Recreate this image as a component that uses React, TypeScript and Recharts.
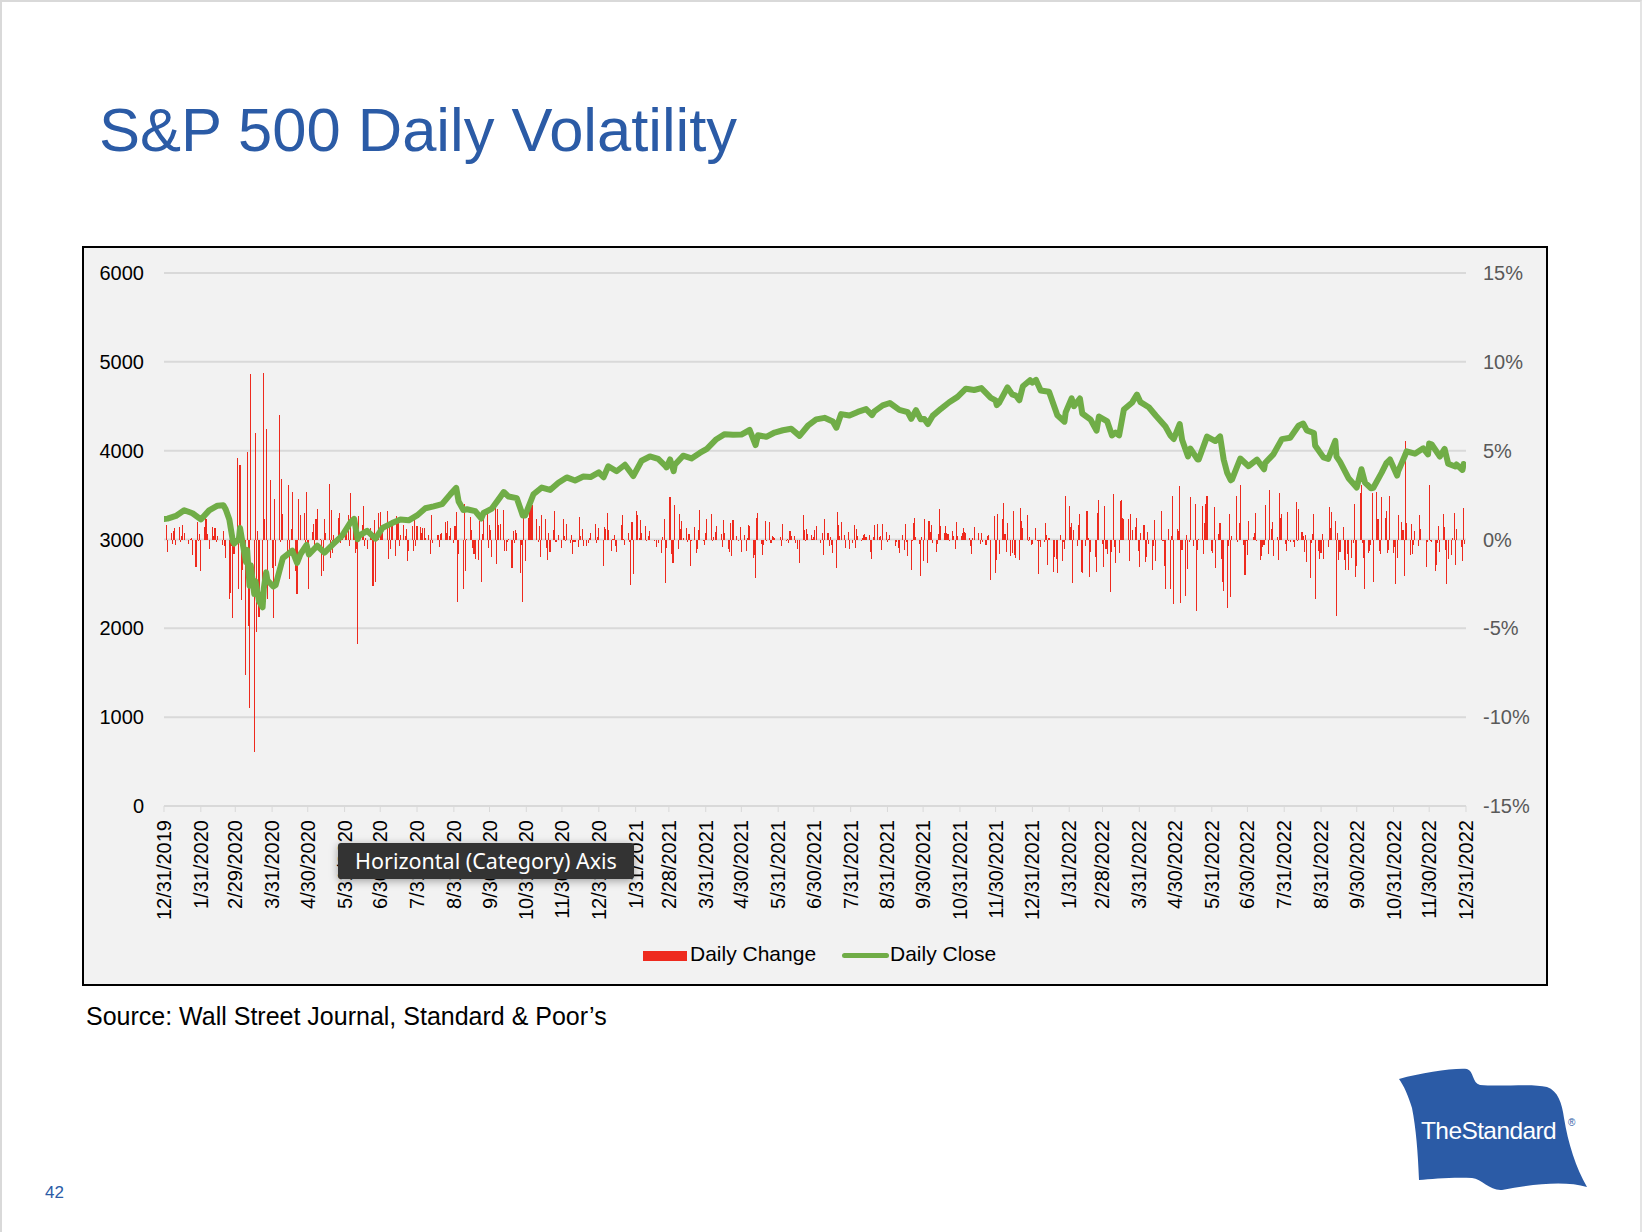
import React from "react"
import { ComposedChart, Bar, Line, XAxis, YAxis, CartesianGrid } from "recharts"

// month-end labels on the date axis
const monthLabels = [
  "12/31/2019", "1/31/2020", "2/29/2020", "3/31/2020", "4/30/2020", "5/31/2020", "6/30/2020",
  "7/31/2020", "8/31/2020", "9/30/2020", "10/31/2020", "11/30/2020", "12/31/2020",
  "1/31/2021", "2/28/2021", "3/31/2021", "4/30/2021", "5/31/2021", "6/30/2021",
  "7/31/2021", "8/31/2021", "9/30/2021", "10/31/2021", "11/30/2021", "12/31/2021",
  "1/31/2022", "2/28/2022", "3/31/2022", "4/30/2022", "5/31/2022", "6/30/2022",
  "7/31/2022", "8/31/2022", "9/30/2022", "10/31/2022", "11/30/2022", "12/31/2022",
]

const leftTicks = [0, 1000, 2000, 3000, 4000, 5000, 6000]
const rightTicks = [-15, -10, -5, 0, 5, 10, 15]

// market holidays (no bar on these weekdays)
const holidays = [
  "1/1/2020", "1/20/2020", "2/17/2020", "4/10/2020", "5/25/2020", "7/3/2020", "9/7/2020", "11/26/2020", "12/25/2020",
  "1/1/2021", "1/18/2021", "2/15/2021", "4/2/2021", "5/31/2021", "7/5/2021", "9/6/2021", "11/25/2021", "12/24/2021",
  "1/17/2022", "2/21/2022", "4/15/2022", "5/30/2022", "6/20/2022", "7/4/2022", "9/5/2022", "11/24/2022", "12/26/2022",
]

// daily change, % (one value per trading day)
const change2019 = [0.29]
const change2020 = [
  0.84, -0.71, 0.35, -0.28, 0.49, 0.67, -0.29, 0.70, -0.15, 0.19, 0.84, 0.39, -0.27, 0.03, 0.11, -0.90, -1.57, 1.01, -0.09, 0.31, -1.77,
  0.73, 1.50, 1.13, 0.33, -0.54, 0.73, 0.17, 0.65, -0.16, 0.18, -0.29, 0.47, -0.38, -1.05, -3.35, -3.03, -0.38, -4.42, -0.82,
  4.60, -2.81, 4.22, -3.39, -1.71, -7.60, 4.94, -4.89, -9.51, 9.29, -11.98, 6.00, -5.18, 0.47, -4.34, -2.93, 9.38, 1.15, 6.24, -3.37, 3.35, -1.60,
  -4.41, 2.28, -1.51, 7.03, -0.16, 3.41, 1.45, -1.01, 3.06, -2.20, 0.58, 2.68, -1.79, -3.07, 2.29, -0.05, 1.39, 1.47, -0.52, 2.66, -0.92,
  -2.81, 0.42, 0.90, -0.70, 1.15, 1.69, 0.01, -2.05, -1.75, 1.15, 0.39, 3.15, -1.05, 1.67, -0.78, 0.24, 1.23, 1.48, -0.21, 0.48,
  0.38, 0.82, 1.36, -0.34, 2.62, 1.20, -0.78, -0.53, -5.89, 1.31, 0.83, 1.90, -0.36, 0.06, -0.56, 0.65, 0.43, -2.59, 1.10, -2.42, 1.47, 1.54,
  0.50, 0.45, 1.59, -1.08, 0.78, -0.56, 1.05, -0.94, 1.34, 0.91, -0.34, 0.28, 0.84, 0.17, 0.57, -1.23, -0.62, 0.74, -0.65, 1.24, -0.38, 0.77,
  0.72, 0.36, 0.64, 0.64, 0.06, 0.27, -0.80, 1.40, -0.20, -0.02, 0.27, 0.23, -0.44, 0.32, 0.34, 1.00, 0.36, 1.02, 0.17, 0.67, -0.22,
  0.75, 1.54, -3.51, -0.81, -2.78, 2.01, -1.76, 0.05, 1.27, 0.52, -0.46, -0.84, -1.12, -1.16, 1.05, -2.37, 0.30, 1.60, 1.61, -0.48, 0.83,
  0.53, -0.96, 1.80, -1.40, 1.74, 0.80, 0.88, 1.64, -0.63, -0.66, -0.15, 0.01, -1.63, 0.47, -0.22, 0.52, 0.34, -1.86, -0.30, -3.53, 1.19, -1.21,
  1.23, 1.78, 2.20, 1.95, -0.03, 1.17, -0.14, 0.77, -1.00, 1.36, 1.16, -0.48, -1.16, 0.39, -0.68, 0.56, 1.62, -0.16, 0.24, -0.46,
  1.13, 0.18, -0.06, 0.88, -0.19, 0.28, -0.79, -0.13, -0.13, -0.44, 1.29, 0.18, 0.58, -0.35, -0.39, -0.21, 0.07, 0.35, 0.87, -0.22, 0.13, 0.64,
]
const change2021 = [
  -1.48, 0.71, 0.57, 1.48, 0.55, -0.66, 0.04, 0.23, -0.38, -0.72, 0.81, 1.39, 0.03, -0.30, 0.36, -0.15, -2.57, 0.98, -1.93,
  1.61, 1.39, 0.10, 1.09, 0.39, 0.74, -0.11, -0.03, 0.17, 0.47, -0.06, -0.03, -0.44, -0.19, -0.77, 0.13, 1.14, -2.45, -0.48,
  2.38, -0.81, -1.31, -1.34, 1.95, -0.54, 1.42, 0.60, 1.04, 0.10, 0.65, -0.16, 0.29, -1.48, -0.06, 0.70, -0.76, -0.55, 0.52, 1.66, -0.09, -0.32, 0.36,
  1.18, 1.44, -0.10, 0.15, 0.42, 0.77, -0.02, 0.33, -0.41, 1.11, 0.36, -0.53, -0.68, 0.93, -0.92, 1.09, 0.18, -0.02, -0.08, 0.68, -0.72,
  0.27, -0.67, 0.07, 0.82, 0.74, -1.04, -0.87, -2.14, 1.22, 1.49, -0.25, -0.85, -0.29, 1.06, -0.08, 0.99, -0.21, 0.19, 0.12, 0.08,
  -0.05, 0.14, -0.36, 0.88, -0.08, 0.02, -0.18, 0.47, 0.19, 0.18, -0.20, -0.54, -0.04, -1.31, 1.40, 0.51, -0.11, 0.58, 0.33, 0.23, 0.03, 0.13,
  0.52, 0.75, -0.20, 0.34, -0.86, 1.13, 0.35, -0.35, 0.12, -0.33, -0.75, -1.59, 1.52, 0.82, 0.20, 1.01, 0.24, -0.47, -0.02, 0.42, -0.54,
  -0.18, 0.82, -0.46, 0.60, 0.17, -0.09, 0.10, 0.25, 0.30, 0.16, 0.26, -0.71, -1.07, 0.13, 0.81, 0.85, 0.15, 0.22, -0.58, 0.88, 0.43, -0.13,
  0.03, 0.28, -0.03, -0.34, -0.13, -0.46, -0.77, 0.23, -0.57, 0.85, -0.16, -0.91, -1.70, -0.08, 0.95, 1.21, 0.15, -0.28, -2.04, 0.16, -1.19,
  1.15, -1.30, 1.05, 0.41, 0.83, -0.19, -0.69, -0.24, 0.30, 1.71, 0.75, 0.34, 0.74, 0.37, 0.30, -0.11, 0.47, 0.18, -0.51, 0.98, 0.19,
  0.18, 0.37, 0.65, 0.42, 0.37, 0.09, -0.35, -0.82, 0.06, 0.72, 0.00, 0.39, -0.26, 0.34, -0.14, -0.32, 0.17, 0.23, -2.27, 1.32, -1.90,
  -1.18, 1.42, -0.84, 1.17, 2.07, 0.31, -0.72, 0.95, -0.91, -0.75, 1.63, -0.87, -1.03, -1.14, 1.78, 1.02, 0.62, 1.38, -0.10, 0.14, -0.30, -0.26,
]
const change2022 = [
  0.64, -0.06, -1.94, -0.10, -0.41, -0.14, 0.92, 0.28, -1.42, 0.08, -1.84, -0.97, -1.10, -1.89, 0.28, -1.22, -0.15, -0.54, 2.43, 1.89,
  0.69, 0.94, -2.44, 0.52, -0.37, 0.84, 1.45, -1.81, -1.90, -0.38, 1.58, 0.09, -2.12, -0.72, -1.01, -1.84, 1.50, 2.24, -0.24,
  -1.55, 1.86, -0.53, -0.79, -2.95, -0.72, 2.57, -0.43, -1.30, -0.74, 2.14, 2.24, 1.23, 1.17, -0.04, 1.13, -1.23, 1.43, 0.51, 0.71, 1.23, -0.63, -1.57,
  0.34, 0.81, -1.26, -0.97, 0.43, -0.27, -1.69, -0.34, 1.12, -1.21, -0.02, 1.61, -0.06, -1.48, -2.77, 0.57, -2.81, 0.21, 2.47, -3.63,
  0.57, 0.48, 2.99, -3.56, -0.57, -3.20, 0.25, -1.65, -0.13, 2.39, -0.39, 2.02, -4.04, -0.58, 0.01, 1.86, -0.81, 0.95, 1.99, 2.47, -0.63,
  -0.75, 1.84, -1.63, 0.31, 0.95, -1.08, -2.38, -2.91, -3.88, -0.38, 1.46, -3.25, 0.22, 2.45, -0.13, 0.95, 3.06, -0.30, -2.01, -0.07, -0.88,
  1.06, 0.16, 0.36, 1.50, -0.08, -1.15, -0.92, -0.45, -0.30, 1.92, -0.84, 2.76, 0.59, 0.99, -0.93, 0.13, -1.15, 2.62, 1.21, 1.42,
  -0.28, -0.67, 1.56, -0.08, -0.16, -0.12, -0.42, 2.13, -0.07, 1.73, 0.40, 0.19, -0.72, 0.23, -1.29, -2.14, -0.22, 0.29, 1.41, -3.37, -0.67, -1.10, -0.78,
  0.30, -1.07, -0.41, 1.83, 0.66, 1.53, 1.06, -4.32, 0.34, -1.13, -0.72, 0.69, -1.13, -1.71, -0.84, -1.72, -1.03, -0.21, 1.97, -2.11, -1.51,
  2.59, 3.06, -0.20, -1.02, -2.80, -0.75, -0.65, -0.33, 2.60, -2.37, 2.65, 1.14, -0.67, -0.80, 2.37, 1.19, 1.63, -0.74, -0.61, 2.46, -0.75,
  -0.41, -2.50, -1.06, 1.36, 0.96, 0.56, -2.08, 5.54, 0.92, -0.89, 0.87, -0.83, -0.31, 0.48, -0.39, 1.36, 0.59, -0.03, -1.54, -0.16, 3.09,
  -0.09, -0.12, -1.79, -1.44, -0.19, 0.75, -0.73, 1.43, 0.73, -0.61, -2.49, -1.11, -0.90, 0.10, 1.49, -1.45, 0.59, -0.40, -1.20, 1.75, -0.25,
]

// daily close (weekly closes plus turning points)
const close2020: [string, number][] = [
  ["12/31/2019", 3230.78], ["1/3/2020", 3234.85], ["1/10/2020", 3265.35], ["1/17/2020", 3329.62], ["1/24/2020", 3295.47],
  ["1/31/2020", 3225.52], ["2/7/2020", 3327.71], ["2/14/2020", 3380.16], ["2/19/2020", 3386.15], ["2/21/2020", 3337.75],
  ["2/24/2020", 3225.89], ["2/27/2020", 2978.76], ["2/28/2020", 2954.22], ["3/3/2020", 3003.37], ["3/4/2020", 3130.12],
  ["3/6/2020", 2972.37], ["3/9/2020", 2746.56], ["3/10/2020", 2882.23], ["3/12/2020", 2480.64], ["3/13/2020", 2711.02],
  ["3/16/2020", 2386.13], ["3/17/2020", 2529.19], ["3/20/2020", 2304.92], ["3/23/2020", 2237.40], ["3/24/2020", 2447.33],
  ["3/26/2020", 2630.07], ["3/27/2020", 2541.47], ["4/1/2020", 2470.50], ["4/3/2020", 2488.65], ["4/9/2020", 2789.82],
  ["4/17/2020", 2874.56], ["4/21/2020", 2736.56], ["4/24/2020", 2836.74], ["4/29/2020", 2939.51], ["5/1/2020", 2830.71],
  ["5/8/2020", 2929.80], ["5/14/2020", 2852.50], ["5/15/2020", 2863.70], ["5/22/2020", 2955.45], ["5/29/2020", 3044.31],
  ["6/5/2020", 3193.93], ["6/8/2020", 3232.39], ["6/11/2020", 3002.10], ["6/12/2020", 3041.31], ["6/19/2020", 3097.74],
  ["6/26/2020", 3009.05], ["7/2/2020", 3130.01], ["7/10/2020", 3185.04], ["7/17/2020", 3224.73], ["7/24/2020", 3215.63],
  ["7/31/2020", 3271.12], ["8/7/2020", 3351.28], ["8/14/2020", 3372.85], ["8/21/2020", 3397.16], ["8/28/2020", 3508.01],
  ["9/2/2020", 3580.84], ["9/4/2020", 3426.96], ["9/8/2020", 3331.84], ["9/11/2020", 3340.97], ["9/18/2020", 3319.47],
  ["9/23/2020", 3236.92], ["9/25/2020", 3298.46], ["10/2/2020", 3348.44], ["10/9/2020", 3477.13], ["10/12/2020", 3534.22],
  ["10/16/2020", 3483.81], ["10/23/2020", 3465.39], ["10/28/2020", 3271.03], ["10/30/2020", 3269.96], ["11/6/2020", 3509.44],
  ["11/13/2020", 3585.15], ["11/20/2020", 3557.54], ["11/27/2020", 3638.35], ["12/4/2020", 3699.12], ["12/11/2020", 3663.46],
  ["12/18/2020", 3709.41], ["12/24/2020", 3703.06], ["12/31/2020", 3756.07],
]
const close2021: [string, number][] = [
  ["1/4/2021", 3700.65], ["1/8/2021", 3824.68], ["1/15/2021", 3768.25], ["1/22/2021", 3841.47], ["1/27/2021", 3750.77],
  ["1/29/2021", 3714.24], ["2/5/2021", 3886.83], ["2/12/2021", 3934.83], ["2/19/2021", 3906.71], ["2/25/2021", 3829.34],
  ["2/26/2021", 3811.15], ["3/1/2021", 3901.82], ["3/4/2021", 3768.47], ["3/5/2021", 3841.94], ["3/12/2021", 3943.34],
  ["3/19/2021", 3913.10], ["3/26/2021", 3974.54], ["4/1/2021", 4019.87], ["4/9/2021", 4128.80], ["4/16/2021", 4185.47],
  ["4/23/2021", 4180.17], ["4/30/2021", 4181.17], ["5/7/2021", 4232.60], ["5/12/2021", 4063.04], ["5/14/2021", 4173.85],
  ["5/21/2021", 4155.86], ["5/28/2021", 4204.11], ["6/4/2021", 4229.89], ["6/11/2021", 4247.44], ["6/18/2021", 4166.45],
  ["6/25/2021", 4280.70], ["7/2/2021", 4352.34], ["7/9/2021", 4369.55], ["7/16/2021", 4327.16], ["7/19/2021", 4258.49],
  ["7/23/2021", 4411.79], ["7/30/2021", 4395.26], ["8/6/2021", 4436.52], ["8/13/2021", 4468.00], ["8/18/2021", 4400.27],
  ["8/20/2021", 4441.67], ["8/27/2021", 4509.37], ["9/2/2021", 4536.95], ["9/10/2021", 4458.58], ["9/17/2021", 4432.99],
  ["9/20/2021", 4357.73], ["9/24/2021", 4455.48], ["9/28/2021", 4352.63], ["10/1/2021", 4357.04], ["10/4/2021", 4300.46],
  ["10/8/2021", 4391.34], ["10/15/2021", 4471.37], ["10/22/2021", 4544.90], ["10/29/2021", 4605.38], ["11/5/2021", 4697.53],
  ["11/12/2021", 4682.85], ["11/18/2021", 4704.54], ["11/26/2021", 4594.62], ["11/30/2021", 4567.00], ["12/1/2021", 4513.04],
  ["12/3/2021", 4538.43], ["12/10/2021", 4712.02], ["12/14/2021", 4634.09], ["12/17/2021", 4620.64], ["12/20/2021", 4568.02],
  ["12/23/2021", 4725.79], ["12/29/2021", 4793.06], ["12/31/2021", 4766.18],
]
const close2022: [string, number][] = [
  ["1/3/2022", 4796.56], ["1/7/2022", 4677.03], ["1/14/2022", 4662.85], ["1/21/2022", 4397.94], ["1/27/2022", 4326.51],
  ["1/28/2022", 4431.85], ["2/2/2022", 4589.38], ["2/4/2022", 4500.53], ["2/9/2022", 4587.18], ["2/11/2022", 4418.64],
  ["2/18/2022", 4348.87], ["2/23/2022", 4225.50], ["2/25/2022", 4384.65], ["3/4/2022", 4328.87], ["3/8/2022", 4170.70],
  ["3/11/2022", 4204.31], ["3/14/2022", 4173.11], ["3/18/2022", 4463.12], ["3/25/2022", 4543.06], ["3/29/2022", 4631.60],
  ["4/1/2022", 4545.86], ["4/8/2022", 4488.28], ["4/14/2022", 4392.59], ["4/22/2022", 4271.78], ["4/26/2022", 4175.20],
  ["4/29/2022", 4131.93], ["5/4/2022", 4300.17], ["5/6/2022", 4123.34], ["5/11/2022", 3935.18], ["5/13/2022", 4023.89],
  ["5/19/2022", 3900.79], ["5/20/2022", 3901.36], ["5/27/2022", 4158.24], ["6/3/2022", 4108.54], ["6/7/2022", 4160.68],
  ["6/10/2022", 3900.86], ["6/13/2022", 3749.63], ["6/16/2022", 3666.77], ["6/17/2022", 3674.84], ["6/24/2022", 3911.74],
  ["7/1/2022", 3825.33], ["7/8/2022", 3899.38], ["7/14/2022", 3790.38], ["7/15/2022", 3863.16], ["7/22/2022", 3961.63],
  ["7/29/2022", 4130.29], ["8/5/2022", 4145.19], ["8/12/2022", 4280.15], ["8/16/2022", 4305.20], ["8/19/2022", 4228.48],
  ["8/25/2022", 4199.12], ["8/26/2022", 4057.66], ["9/2/2022", 3924.26], ["9/6/2022", 3908.19], ["9/12/2022", 4110.41],
  ["9/13/2022", 3932.69], ["9/16/2022", 3873.33], ["9/23/2022", 3693.23], ["9/30/2022", 3585.62], ["10/4/2022", 3790.93],
  ["10/7/2022", 3639.66], ["10/12/2022", 3577.03], ["10/14/2022", 3583.07], ["10/21/2022", 3752.75], ["10/25/2022", 3859.11],
  ["10/28/2022", 3901.06], ["11/3/2022", 3719.89], ["11/4/2022", 3770.55], ["11/10/2022", 3956.37], ["11/11/2022", 3992.93],
  ["11/18/2022", 3965.34], ["11/25/2022", 4026.12], ["11/29/2022", 3957.63], ["11/30/2022", 4080.11], ["12/2/2022", 4071.70],
  ["12/9/2022", 3934.38], ["12/13/2022", 4019.65], ["12/16/2022", 3852.36], ["12/22/2022", 3822.39], ["12/23/2022", 3844.82],
  ["12/28/2022", 3783.22], ["12/29/2022", 3849.28], ["12/30/2022", 3839.50],
]

const DAY = 86400000
const origin = Date.UTC(2019, 11, 31)

const toDay = (s: string) => {
  const [m, d, y] = s.split("/").map(Number)
  return Math.round((Date.UTC(y, m - 1, d) - origin) / DAY)
}

// trading days of a year (weekdays that are not holidays)
const holidayDays = new Set(holidays.map(toDay))
const tradingDays = (year: number) => {
  const out: number[] = []
  for (let t = Date.UTC(year, 0, 1); t <= Date.UTC(year, 11, 31); t += DAY) {
    const wd = new Date(t).getUTCDay()
    const d = Math.round((t - origin) / DAY)
    if (wd !== 0 && wd !== 6 && !holidayDays.has(d)) out.push(d)
  }
  return out
}

const rows = new Map<number, { d: number; chg: number | null; close: number | null }>()
const row = (d: number) => {
  if (!rows.has(d)) rows.set(d, { d, chg: null, close: null })
  return rows.get(d)!
}

const addChanges = (days: number[], values: number[]) => {
  values.forEach((v, i) => {
    if (i < days.length) row(days[i]).chg = v
  })
}
addChanges([0], change2019)
addChanges(tradingDays(2020), change2020)
addChanges(tradingDays(2021), change2021)
addChanges(tradingDays(2022), change2022)
;[...close2020, ...close2021, ...close2022].forEach(([s, v]) => {
  row(toDay(s)).close = v
})

const data = [...rows.values()].sort((a, b) => a.d - b.d)

const monthTicks = monthLabels.map(toDay)
const tickLabel = new Map(monthLabels.map((s) => [toDay(s), s]))

const FONT = "'Liberation Sans', Arial, Helvetica, sans-serif"

const DateTick = (props: any) => {
  const { x, y, payload } = props
  return (
    <text
      x={x}
      y={y}
      transform={`rotate(-90, ${x}, ${y})`}
      textAnchor="end"
      dominantBaseline="central"
      fontSize={20}
      fill="#000"
    >
      {tickLabel.get(payload.value)}
    </text>
  )
}

export default function App() {
  return (
    <div
      style={{
        position: "absolute",
        left: 0,
        top: 0,
        width: 1642,
        height: 1232,
        background: "#fff",
        fontFamily: FONT,
        boxSizing: "border-box",
        borderTop: "2px solid #d9d9d9",
        borderLeft: "2px solid #d9d9d9",
        borderRight: "2px solid #e4e4e4",
        overflow: "hidden",
      }}
    >
      <style>{`.recharts-bar-rectangle path { shape-rendering: crispEdges; }`}</style>
      <div
        style={{
          position: "absolute",
          left: 97,
          top: 88,
          fontSize: 61.5,
          color: "#2b5ba6",
          whiteSpace: "nowrap",
          lineHeight: "80px",
        }}
      >
        S&amp;P 500 Daily Volatility
      </div>

      <div
        style={{
          position: "absolute",
          left: 80,
          top: 244,
          width: 1466,
          height: 740,
          boxSizing: "border-box",
          border: "2px solid #000",
          background: "#f2f2f2",
        }}
      >
        <ComposedChart
          width={1462}
          height={736}
          data={data}
          margin={{ top: 25, right: 0, bottom: 0, left: 0 }}
        >
          <CartesianGrid yAxisId="left" vertical={false} stroke="#d9d9d9" strokeWidth={2} />
          <XAxis
            dataKey="d"
            type="number"
            domain={[0, 1096]}
            ticks={monthTicks}
            interval={0}
            height={178}
            tick={<DateTick />}
            tickSize={6}
            tickMargin={8}
            axisLine={{ stroke: "#d9d9d9", strokeWidth: 2 }}
            tickLine={{ stroke: "#d9d9d9", strokeWidth: 1 }}
            allowDataOverflow
          />
          <YAxis
            yAxisId="left"
            domain={[0, 6000]}
            ticks={leftTicks}
            width={80}
            tickSize={0}
            tickMargin={20}
            axisLine={false}
            tickLine={false}
            tick={{ fill: "#000", fontSize: 20 }}
          />
          <YAxis
            yAxisId="right"
            orientation="right"
            domain={[-15, 15]}
            ticks={rightTicks}
            width={80}
            tickSize={0}
            tickMargin={17}
            axisLine={false}
            tickLine={false}
            tickFormatter={(v: number) => `${v}%`}
            tick={{ fill: "#595959", fontSize: 20 }}
          />
          <Bar
            yAxisId="right"
            dataKey="chg"
            fill="#ee2a1e"
            barSize={1.4}
            isAnimationActive={false}
          />
          <Line
            yAxisId="left"
            dataKey="close"
            type="linear"
            stroke="#70ad47"
            strokeWidth={6}
            strokeLinejoin="round"
            strokeLinecap="round"
            dot={false}
            connectNulls
            isAnimationActive={false}
          />
        </ComposedChart>

        <div
          style={{
            position: "absolute",
            left: 559,
            top: 703,
            width: 44,
            height: 10,
            background: "#ee2a1e",
          }}
        />
        <div style={{ position: "absolute", left: 606, top: 694, fontSize: 21, color: "#000", whiteSpace: "nowrap" }}>
          Daily Change
        </div>
        <div
          style={{
            position: "absolute",
            left: 758,
            top: 705,
            width: 47,
            height: 5,
            borderRadius: 3,
            background: "#70ad47",
          }}
        />
        <div style={{ position: "absolute", left: 806, top: 694, fontSize: 21, color: "#000", whiteSpace: "nowrap" }}>
          Daily Close
        </div>
      </div>

      <div
        style={{
          position: "absolute",
          left: 336,
          top: 841,
          width: 296,
          height: 36,
          background: "#333",
          borderRadius: 3,
          boxShadow: "0 2px 8px rgba(0,0,0,0.35)",
          color: "#fff",
          fontFamily: "'Noto Sans', 'Open Sans', sans-serif",
          fontSize: 21.5,
          lineHeight: "36px",
          textAlign: "center",
          whiteSpace: "nowrap",
        }}
      >
        Horizontal (Category) Axis
      </div>

      <div style={{ position: "absolute", left: 84, top: 1000, fontSize: 25, color: "#000", whiteSpace: "nowrap" }}>
        Source: Wall Street Journal, Standard &amp; Poor’s
      </div>

      <div style={{ position: "absolute", left: 43, top: 1181, fontSize: 17, color: "#2b5ba6" }}>42</div>

      <svg style={{ position: "absolute", left: 0, top: 0 }} width={1642} height={1232}>
        <path
          d="M1397,1077 C1420,1071 1450,1066 1465,1067 C1472,1069 1470,1081 1478,1083 C1500,1085 1530,1081 1545,1085 C1556,1089 1560,1101 1562,1116 C1566,1141 1574,1166 1585,1185 C1565,1179 1535,1181 1500,1188 C1488,1189 1480,1177 1470,1176 C1450,1175 1430,1177 1417,1178 C1416,1151 1414,1126 1410,1106 C1406,1093 1402,1084 1397,1077 Z"
          fill="#2b5ba6"
        />
        <text x={1419} y={1137} fontSize={24.5} fill="#fff" letterSpacing={-0.6} fontFamily={FONT}>
          <tspan fontWeight={300}>The</tspan>
          <tspan>Standard</tspan>
        </text>
        <text x={1566} y={1124} fontSize={10} fill="#2b5ba6" fontFamily={FONT}>
          ®
        </text>
      </svg>
    </div>
  )
}
